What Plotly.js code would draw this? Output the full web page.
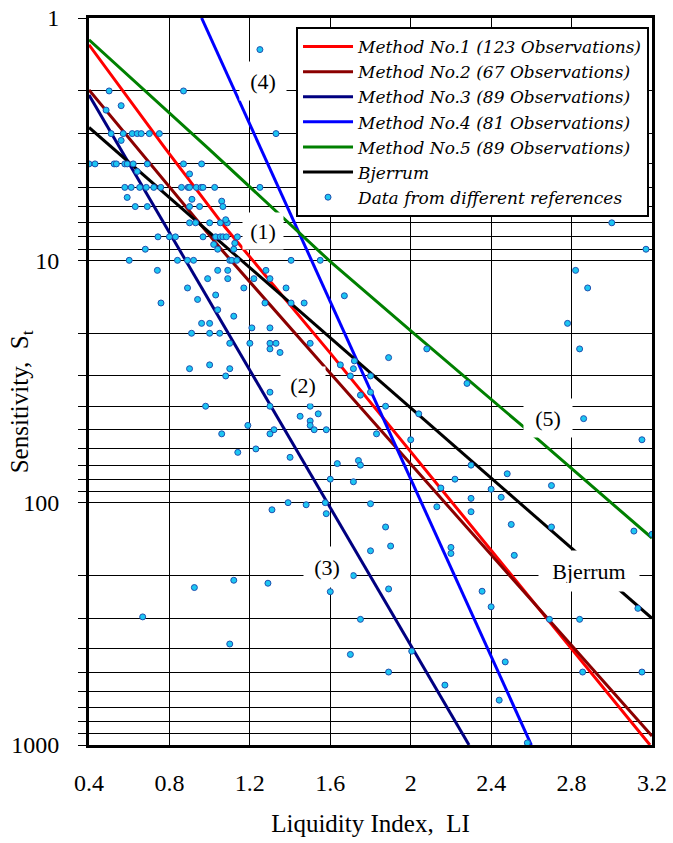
<!DOCTYPE html>
<html>
<head>
<meta charset="utf-8">
<script src="https://cdn.plot.ly/plotly-3.0.1.min.js"></script>
<style>html,body{margin:0;padding:0;background:#fff;}#chart{width:673px;height:843px;}</style>
</head>
<body>
<div id="chart"></div>
<script>
// ---- Data ----
const xTickVals = [0.4, 0.8, 1.2, 1.6, 2.0, 2.4, 2.8, 3.2];
const xTickLabels = ['0.4', '0.8', '1.2', '1.6', '2', '2.4', '2.8', '3.2'];
const yTickVals = [1, 10, 100, 1000];
const yTickLabels = ['1', '10', '100', '1000'];

const seriesNames = [
  'Method No.1 (123 Observations)',
  'Method No.2 (67 Observations)',
  'Method No.3 (89 Observations)',
  'Method No.4 (81 Observations)',
  'Method No.5 (89 Observations)',
  'Bjerrum',
  'Data from different references'
];

// regression lines (Liquidity Index, Sensitivity)
const m1LI = [0.4, 0.778, 1.076, 1.599, 3.19];
const m1St = [1.29, 3.44, 7.29, 24.1, 1000];
const m2LI = [0.4, 1.052, 1.599, 3.2];
const m2St = [1.98, 8.9, 29.2, 919];
const m3LI = [0.4, 2.29];
const m3St = [2.08, 1000];
const m4LI = [0.96, 2.60];
const m4St = [1, 1000];
const m5LI = [0.4, 0.993, 1.599, 2.005, 2.56, 3.2];
const m5St = [1.23, 3.45, 10.1, 19.7, 48.6, 140];
const bjLI = [0.4, 3.2];
const bjSt = [2.83, 300];

// observed data points
const dataLI = [
  1.25, 0.50, 0.87, 0.485, 0.56, 0.56,
  0.51, 0.57, 0.615, 0.64, 0.66, 0.70, 0.75, 1.33,
  0.40, 0.43, 0.525, 0.536, 0.578, 0.59, 0.62, 0.69, 0.87, 0.96,
  0.64, 0.90,
  0.578, 0.61, 0.652, 0.685, 0.722, 0.757, 0.86, 0.893, 0.90, 0.934, 0.958, 0.967, 1.025, 1.25,
  0.59, 0.912, 1.06,
  0.63, 0.69, 0.90, 0.95, 1.066,
  0.90, 0.93, 1.0, 1.053, 1.088, 3.0,
  1.08,
  0.743, 0.80, 0.83, 0.967, 1.03, 1.053, 1.066, 1.083, 1.138,
  1.02, 1.125,
  0.68, 1.04, 1.12, 3.17,
  0.60, 0.84, 0.89, 0.92, 1.10, 1.11, 1.135, 1.405, 1.55,
  0.74, 1.04, 1.09, 1.28, 2.82,
  0.99, 1.09, 1.22, 1.30,
  0.89, 1.17, 1.38, 2.88,
  1.03, 0.94, 1.67, 0.758, 1.275, 1.405, 1.47,
  1.04, 1.12, 0.96, 1.0, 2.78, 1.21, 1.30,
  0.91, 1.0, 1.05,
  1.10, 1.20, 1.30, 1.33, 1.50,
  1.30, 1.35, 2.08, 2.84, 1.89, 1.72, 0.90, 1.0, 1.10, 1.65, 1.715,
  1.08, 1.70, 1.80,
  2.28, 1.30, 1.80, 1.75,
  0.98, 1.30, 1.50, 1.875,
  1.45, 1.54, 2.04, 2.86, 1.50, 1.50, 1.19,
  1.52, 1.58, 1.32,
  1.30, 1.06, 1.83, 2.00, 3.15, 1.23, 1.14, 1.40, 1.635, 1.74, 1.75, 2.30, 2.48, 1.60, 2.22, 1.715, 2.70, 2.15, 2.40, 2.45, 2.30,
  1.39, 1.575, 1.80, 1.48, 2.13, 1.31, 2.30, 1.58, 2.50, 1.875, 2.70, 3.11, 3.20, 1.90, 2.20, 2.20, 1.80, 2.515,
  1.715, 1.12, 0.924, 1.29, 1.60, 1.89, 2.355, 2.83, 2.40, 3.13, 0.667,
  1.75, 2.69, 2.84, 1.10, 2.005, 1.70, 2.47, 1.89, 2.855, 3.15, 2.17, 2.44, 2.58
];
const dataSt = [
  1.35, 2, 2, 2.4, 2.3, 3.2,
  3, 3, 3, 3, 3, 3, 3, 3,
  4, 4, 4, 4, 4, 4, 4, 4, 4, 4,
  4.3, 4.4,
  5, 5, 5, 5, 5, 5, 5, 5, 5, 5, 5, 5, 5, 5,
  5.5, 5.6, 5.7,
  6, 6, 6, 6, 6,
  7, 7, 7, 7, 7, 7,
  6.8,
  8, 8, 8, 8, 8, 8, 8, 8, 8,
  8.6, 8.5,
  9, 9, 9, 9,
  10, 10, 10, 10, 10, 10, 10, 10, 10,
  11, 11, 11, 11, 11,
  11.9, 11.9, 11.9, 11.9,
  13, 13, 13, 13,
  13.9, 14.5, 14, 15, 15, 15, 15,
  16, 17, 18.2, 18.2, 18.2, 19, 19,
  20, 20, 20,
  22, 22, 22, 22, 22,
  23.2, 24, 23.2, 23.2, 25.2, 26, 28, 27, 28, 27, 28,
  30, 30, 30,
  32.2, 35, 35, 36,
  40, 40, 40, 40,
  44, 43, 43, 45, 46, 48, 48,
  50, 50, 50,
  52, 52, 52, 55, 55, 60, 62, 65, 69, 67, 70, 70, 76, 80, 80, 82, 85, 87, 88, 95, 96,
  100, 100, 101, 102, 104, 107, 109, 111, 123, 126, 126, 131, 135, 151, 153, 162, 158, 165,
  200, 209, 224, 215, 233, 227, 232, 221, 269, 273, 296,
  303, 303, 303, 383, 410, 423, 454, 500, 500, 500, 566, 653, 980
];

const lineLabels = ['(4)', '(1)', '(2)', '(3)', '(5)', 'Bjerrum'];

// ---- Chart ----
const serif = 'Liberation Serif, Times New Roman, serif';
const lineW = 3;
const traces = [
  {x: m1LI, y: m1St, mode: 'lines', name: seriesNames[0], line: {color: '#FF0000', width: lineW}},
  {x: m2LI, y: m2St, mode: 'lines', name: seriesNames[1], line: {color: '#8B0000', width: lineW}},
  {x: m3LI, y: m3St, mode: 'lines', name: seriesNames[2], line: {color: '#000080', width: lineW}},
  {x: m4LI, y: m4St, mode: 'lines', name: seriesNames[3], line: {color: '#0000FF', width: lineW}},
  {x: m5LI, y: m5St, mode: 'lines', name: seriesNames[4], line: {color: '#008000', width: lineW}},
  {x: bjLI, y: bjSt, mode: 'lines', name: seriesNames[5], line: {color: '#000000', width: lineW}},
  {x: dataLI, y: dataSt, mode: 'markers', name: seriesNames[6],
   marker: {color: '#1CC6F2', size: 6, line: {color: '#1F50B0', width: 1}}}
];

function label(text, li, st, w, h, pad) {
  return {text: text, x: li, y: Math.log10(st), xref: 'x', yref: 'y',
    width: w, height: h, borderpad: pad, bgcolor: '#FFFFFF', showarrow: false,
    font: {family: serif, size: 22, color: '#000'}};
}
const annotations = [
  label(lineLabels[0], 1.265, 1.82, 36, 28, 5),
  label(lineLabels[1], 1.265, 7.57, 30, 26, 5),
  label(lineLabels[2], 1.464, 32.7, 34, 26, 5),
  label(lineLabels[3], 1.584, 184.5, 36, 30, 5),
  label(lineLabels[4], 2.683, 44.7, 38, 28, 5),
  label(lineLabels[5], 2.887, 191.6, 84, 24, 8),
  {text: 'Sensitivity,  S<sub>t</sub>', xref: 'paper', yref: 'paper', x: -0.12, y: 0.472,
   xanchor: 'center', yanchor: 'middle', textangle: -90, showarrow: false,
   font: {family: serif, size: 25, color: '#000'}}
];

const layout = {
  width: 673, height: 843,
  margin: {l: 89, r: 21, t: 18, b: 98, pad: 0},
  paper_bgcolor: '#FFFFFF', plot_bgcolor: '#FFFFFF',
  font: {family: serif, color: '#000'},
  showlegend: true,
  legend: {x: 0.9947, y: 0.9876, xanchor: 'right', yanchor: 'top',
    bgcolor: '#FFFFFF', bordercolor: '#000000', borderwidth: 2,
    itemwidth: 50,
    font: {family: 'DejaVu Serif, serif', size: 17, style: 'italic', color: '#000'}},
  xaxis: {
    range: [0.4, 3.2], tickvals: xTickVals, ticktext: xTickLabels,
    showgrid: true, gridcolor: '#000', gridwidth: 1, zeroline: false,
    showline: true, linecolor: '#000', linewidth: 3, mirror: true,
    ticks: '', ticklabelstandoff: 14,
    tickfont: {family: serif, size: 24, color: '#000'},
    title: {text: 'Liquidity Index,  LI', font: {family: serif, size: 25, color: '#000'}, standoff: 20}
  },
  yaxis: {
    type: 'log', range: [3, 0], tickvals: yTickVals, ticktext: yTickLabels,
    showgrid: true, gridcolor: '#000', gridwidth: 1, zeroline: false,
    showline: true, linecolor: '#000', linewidth: 3, mirror: true,
    ticks: 'outside', ticklen: 8, tickwidth: 1, tickcolor: '#000',
    ticklabelstandoff: 14,
    minor: {dtick: 'D1', ticks: 'outside', ticklen: 8, tickwidth: 1, tickcolor: '#000',
      showgrid: true, gridcolor: '#000', gridwidth: 1},
    tickfont: {family: serif, size: 24, color: '#000'}
  },
  annotations: annotations
};

Plotly.newPlot('chart', traces, layout, {displayModeBar: false, staticPlot: true});
</script>
</body>
</html>
